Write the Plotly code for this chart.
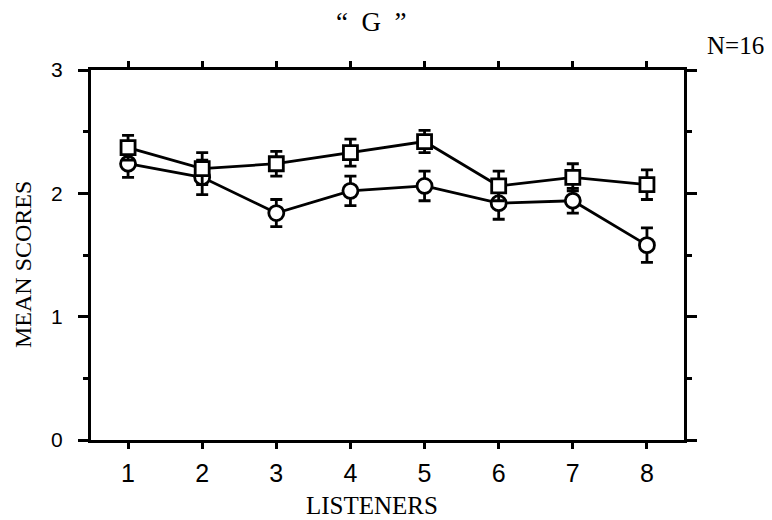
import plotly.graph_objects as go

listeners = [1, 2, 3, 4, 5, 6, 7, 8]
tick_labels = ["1", "2", "3", "4", "5", "6", "7", "8"]
square_means = [2.37, 2.20, 2.24, 2.33, 2.42, 2.06, 2.13, 2.07]
square_err = [0.10, 0.13, 0.10, 0.11, 0.09, 0.12, 0.11, 0.12]
circle_means = [2.24, 2.13, 1.84, 2.02, 2.06, 1.92, 1.94, 1.58]
circle_err = [0.11, 0.14, 0.11, 0.12, 0.12, 0.13, 0.10, 0.14]

W, H = 764, 512          # page body has an 8px margin
L, R, T, B = 83, 88, 62, 80
plot_w = W - L - R
plot_h = H - T - B


def px(x_page):
    return (x_page - 8 - L) / plot_w


def py(y_page):
    return (H - (y_page - 8) - B) / plot_h


fig = go.Figure()
fig.add_trace(go.Scatter(
    x=listeners, y=circle_means, mode="lines+markers",
    line=dict(color="black", width=2.8),
    marker=dict(symbol="circle", size=15, color="white", line=dict(color="black", width=2.8)),
    error_y=dict(type="data", array=circle_err, color="black", thickness=2.8, width=6),
    showlegend=False, cliponaxis=False,
))
fig.add_trace(go.Scatter(
    x=listeners, y=square_means, mode="lines+markers",
    line=dict(color="black", width=2.8),
    marker=dict(symbol="square", size=14, color="white", line=dict(color="black", width=2.8)),
    error_y=dict(type="data", array=square_err, color="black", thickness=2.8, width=6),
    showlegend=False, cliponaxis=False,
))

fig.update_layout(
    width=W, height=H,
    margin=dict(l=L, r=R, t=T, b=B),
    paper_bgcolor="white", plot_bgcolor="white",
    font=dict(family="Liberation Serif", color="black"),
    xaxis=dict(
        range=[0.5, 8.5], tickvals=listeners, ticktext=tick_labels,
        showgrid=False, zeroline=False, showline=True, linecolor="black", linewidth=3,
        ticks="outside", ticklen=6, tickwidth=2.5, tickcolor="black", mirror="ticks",
        tickfont=dict(family="Liberation Sans", size=25), ticklabelstandoff=3,
    ),
    yaxis=dict(
        range=[0, 3], tickvals=[0, 1, 2, 3],
        showgrid=False, zeroline=False, showline=True, linecolor="black", linewidth=3,
        ticks="outside", ticklen=10, tickwidth=2.5, tickcolor="black", mirror="allticks",
        minor=dict(tickvals=[0.5, 1.5, 2.5], ticks="outside", ticklen=5, tickwidth=2.5, tickcolor="black"),
        tickfont=dict(family="Liberation Sans", size=21), ticklabelstandoff=11,
    ),
)

fig.add_annotation(text="“\u00a0\u00a0G\u00a0\u00a0”", xref="paper", yref="paper",
                   x=px(371), y=py(22), xanchor="center", yanchor="middle", showarrow=False,
                   font=dict(family="Liberation Serif", size=27))
fig.add_annotation(text="N=16", xref="paper", yref="paper",
                   x=px(735), y=py(45), xanchor="center", yanchor="middle", showarrow=False,
                   font=dict(family="Liberation Serif", size=25))
fig.add_annotation(text="MEAN SCORES", xref="paper", yref="paper", textangle=-90,
                   x=px(23), y=py(265), xanchor="center", yanchor="middle", showarrow=False,
                   font=dict(family="Liberation Serif", size=24))
fig.add_annotation(text="LISTENERS", xref="paper", yref="paper",
                   x=px(372), y=py(505), xanchor="center", yanchor="middle", showarrow=False,
                   font=dict(family="Liberation Serif", size=25))

fig.write_html("out.html")
